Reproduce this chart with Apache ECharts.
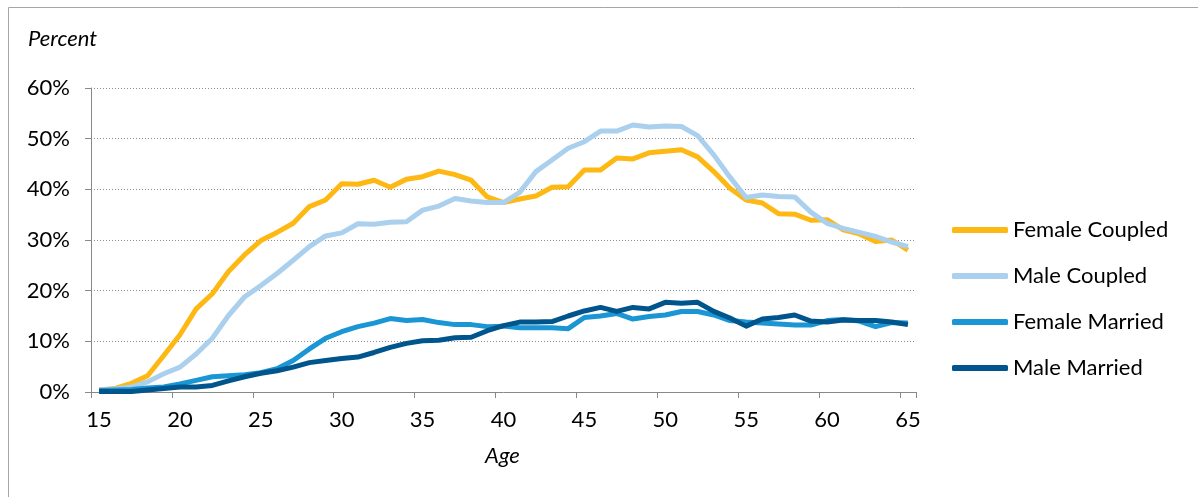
<!DOCTYPE html>
<html>
<head>
<meta charset="utf-8">
<script src="https://cdn.jsdelivr.net/npm/echarts@6/dist/echarts.min.js"></script>
<style>
html,body{margin:0;padding:0;background:#fff;}
#chart{width:1198px;height:497px;}
</style>
</head>
<body>
<div id="chart"></div>
<script>
const ages = [];
for (let a = 15; a <= 65; a++) ages.push(String(a));

const seriesNames = ['Female Coupled', 'Male Coupled', 'Female Married', 'Male Married'];

const femaleCoupled = [0.4,0.7,1.7,3.2,7.2,11.3,16.4,19.4,23.8,27.1,29.9,31.5,33.3,36.6,37.9,41.1,41.0,41.8,40.4,42.0,42.5,43.6,42.9,41.8,38.5,37.4,38.1,38.7,40.4,40.5,43.8,43.8,46.2,46.0,47.2,47.5,47.8,46.4,43.5,40.2,37.9,37.3,35.2,35.1,33.9,34.0,32.0,31.2,29.7,30.0,28.0];
const maleCoupled = [0.4,0.6,1.0,2.0,3.6,4.9,7.5,10.6,15.1,18.8,21.0,23.4,26.0,28.7,30.8,31.4,33.2,33.1,33.5,33.6,35.9,36.7,38.2,37.7,37.4,37.4,39.4,43.5,45.8,48.1,49.4,51.5,51.5,52.7,52.3,52.5,52.4,50.6,46.8,42.4,38.4,38.9,38.6,38.5,35.5,33.3,32.3,31.5,30.7,29.6,28.7];
const femaleMarried = [0.3,0.4,0.5,0.8,1.0,1.6,2.3,3.0,3.2,3.4,3.8,4.6,6.2,8.5,10.6,11.9,12.9,13.6,14.5,14.1,14.3,13.7,13.3,13.3,12.9,13.0,12.7,12.7,12.7,12.5,14.7,15.0,15.5,14.4,14.9,15.2,15.9,15.9,15.2,14.1,13.8,13.6,13.4,13.2,13.2,14.1,14.3,14.0,12.9,13.7,13.6];
const maleMarried = [0.1,0.1,0.1,0.4,0.7,1.0,1.0,1.3,2.2,3.0,3.7,4.2,4.9,5.8,6.2,6.6,6.9,7.8,8.8,9.6,10.1,10.2,10.7,10.8,12.1,13.1,13.8,13.8,13.9,15.0,16.0,16.7,15.9,16.7,16.4,17.7,17.5,17.7,15.9,14.6,13.0,14.4,14.7,15.2,14.0,13.8,14.2,14.1,14.1,13.8,13.3];

const colors = ['#FDB813', '#AAD0EE', '#1A96D4', '#00558C'];
const allData = [femaleCoupled, maleCoupled, femaleMarried, maleMarried];

const FONT = 'Lato, "DejaVu Sans", sans-serif';

const chart = echarts.init(document.getElementById('chart'), null, {renderer: 'canvas'});
chart.setOption({
  animation: false,
  backgroundColor: '#ffffff',
  textStyle: {fontFamily: FONT},
  graphic: [
    {type: 'rect', shape: {x: 8.5, y: 7.5, width: 1400, height: 1000}, style: {fill: 'none', stroke: '#a6a6a6', lineWidth: 1}, silent: true, z: -10},
    {type: 'text', left: 28, top: 28, style: {text: 'Percent', font: 'italic 22px ' + FONT, fill: '#000'}},
    {type: 'text', left: 485, top: 445, style: {text: 'Age', font: 'italic 22px ' + FONT, fill: '#000'}}
  ],
  grid: {left: 91, right: 282, top: 88, bottom: 105, containLabel: false},
  legend: {
    orient: 'vertical',
    left: 952,
    top: 219,
    padding: 0,
    itemWidth: 56,
    itemHeight: 6,
    itemGap: 24,
    icon: 'roundRect',
    data: seriesNames,
    textStyle: {fontFamily: FONT, fontSize: 22, lineHeight: 22, color: '#000'}
  },
  xAxis: {
    type: 'category',
    data: ages,
    boundaryGap: true,
    axisLine: {lineStyle: {color: '#888888', width: 1}},
    axisTick: {show: true, interval: 4, length: 6, lineStyle: {color: '#888888'}},
    axisLabel: {interval: 4, fontFamily: FONT, fontSize: 22, color: '#000', margin: 17},
    splitLine: {show: false}
  },
  yAxis: {
    type: 'value',
    min: 0, max: 60, interval: 10,
    axisLine: {show: true, lineStyle: {color: '#888888', width: 1}},
    axisTick: {show: true, length: 6, lineStyle: {color: '#888888'}},
    axisLabel: {formatter: '{value}%', fontFamily: FONT, fontSize: 22, color: '#000', margin: 21},
    splitLine: {show: true, lineStyle: {color: '#8c8c8c', type: [1, 2], width: 1}}
  },
  series: seriesNames.map((n, i) => ({
    name: n,
    type: 'line',
    data: allData[i],
    symbol: 'none',
    lineStyle: {color: colors[i], width: 5, join: 'round'},
    itemStyle: {color: colors[i]},
    z: 2 + i
  }))
});
</script>
</body>
</html>
